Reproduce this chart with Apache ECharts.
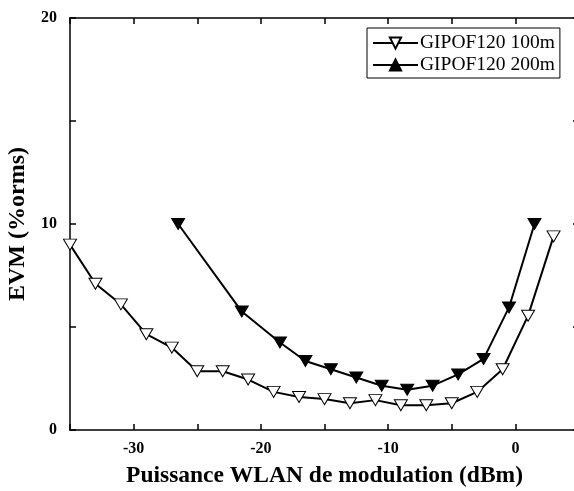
<!DOCTYPE html>
<html>
<head>
<meta charset="utf-8">
<script src="https://cdn.jsdelivr.net/npm/echarts@6/dist/echarts.min.js"></script>
<style>
html,body{margin:0;padding:0;background:#fff;overflow:hidden;}
#chart{width:574px;height:491px;}
</style>
</head>
<body>
<div id="chart"></div>
<script>
const x100 = [-35, -33, -31, -29, -27, -25, -23, -21, -19, -17, -15, -13, -11, -9, -7, -5, -3, -1, 1, 3];
const y100 = [9.0, 7.1, 6.1, 4.65, 4.0, 2.85, 2.85, 2.45, 1.85, 1.6, 1.5, 1.3, 1.45, 1.2, 1.2, 1.3, 1.85, 2.95, 5.55, 9.4];
const x200 = [-26.5, -21.5, -18.5, -16.5, -14.5, -12.5, -10.5, -8.5, -6.5, -4.5, -2.5, -0.5, 1.5];
const y200 = [10.0, 5.75, 4.25, 3.35, 2.95, 2.55, 2.15, 1.95, 2.15, 2.7, 3.45, 5.95, 10.0];
const seriesNames = ['GIPOF120 100m', 'GIPOF120 200m'];
const xName = 'Puissance WLAN de modulation (dBm)';
const yName = 'EVM (%orms)';
const xLabelTicks = [-30, -20, -10, 0];
const yLabelTicks = [0, 10, 20];

const serif = 'Liberation Serif';
const chart = echarts.init(document.getElementById('chart'), null, {renderer: 'canvas'});
const pairs = (xs, ys) => xs.map((x, i) => [x, ys[i]]);
const tickStyle = {show: true, inside: true, length: 6, lineStyle: {color: '#000', width: 1.5}};
const axisLine = {show: true, onZero: false, lineStyle: {color: '#000', width: 1.5}};

chart.setOption({
  animation: false,
  backgroundColor: '#fff',
  grid: {left: 70, right: -5, top: 18, bottom: 61, containLabel: false, outerBoundsMode: 'none'},
  legend: {
    orient: 'vertical',
    left: 367, top: 28,
    data: [
      {name: seriesNames[0]},
      {name: seriesNames[1], symbolRotate: 0}
    ],
    itemWidth: 45, itemHeight: 14, itemGap: 2,
    padding: [5, 5, 3, 5],
    borderColor: '#000', borderWidth: 1,
    backgroundColor: '#fff',
    textStyle: {fontFamily: serif, fontSize: 19.5, color: '#000', padding: [0, 0, 0, -3]}
  },
  xAxis: [{
    type: 'value', min: -35, max: 5, interval: 5,
    name: xName, nameLocation: 'middle', nameGap: 34,
    nameTextStyle: {fontFamily: serif, fontWeight: 'bold', fontSize: 23.5, color: '#000'},
    axisLine: axisLine,
    axisTick: tickStyle,
    splitLine: {show: false},
    axisLabel: {fontFamily: serif, fontWeight: 'bold', fontSize: 16, color: '#000', margin: 11,
      formatter: v => (xLabelTicks.indexOf(v) >= 0 ? String(v) : '')}
  }, {
    type: 'value', position: 'top', min: -35, max: 5, interval: 5,
    axisLine: axisLine, axisTick: tickStyle,
    splitLine: {show: false}, axisLabel: {show: false}
  }],
  yAxis: [{
    type: 'value', min: 0, max: 20, interval: 5,
    name: yName, nameLocation: 'middle', nameGap: 36,
    nameTextStyle: {fontFamily: serif, fontWeight: 'bold', fontSize: 24, color: '#000'},
    axisLine: axisLine, axisTick: tickStyle,
    splitLine: {show: false},
    axisLabel: {fontFamily: serif, fontWeight: 'bold', fontSize: 16, color: '#000', margin: 13,
      formatter: v => (yLabelTicks.indexOf(v) >= 0 ? String(v) : '')}
  }, {
    type: 'value', position: 'right', min: 0, max: 20, interval: 5,
    axisLine: axisLine, axisTick: tickStyle,
    splitLine: {show: false}, axisLabel: {show: false}
  }],
  series: [{
    name: seriesNames[0], type: 'line',
    data: pairs(x100, y100),
    symbol: 'triangle', symbolRotate: 180, symbolSize: [13, 11],
    lineStyle: {color: '#000', width: 2},
    itemStyle: {color: '#fff', borderColor: '#000', borderWidth: 1},
    z: 3
  }, {
    name: seriesNames[1], type: 'line',
    data: pairs(x200, y200),
    symbol: 'triangle', symbolRotate: 180, symbolSize: [13, 11],
    lineStyle: {color: '#000', width: 2},
    itemStyle: {color: '#000', borderColor: '#000', borderWidth: 1},
    z: 3
  }]
});
</script>
</body>
</html>
